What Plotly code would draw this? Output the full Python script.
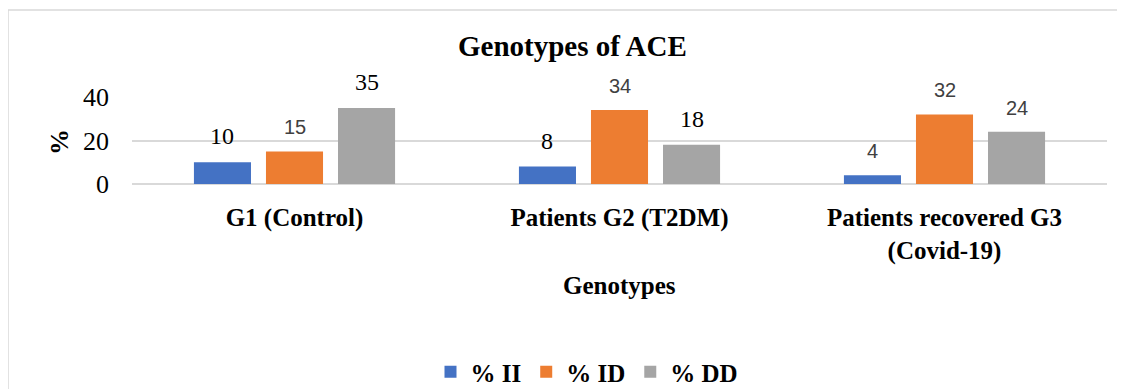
import plotly.graph_objects as go

categories = ["G1 (Control)", "Patients G2 (T2DM)", "Patients recovered G3<br>(Covid-19)"]
series_names = ["% II", "% ID", "% DD"]
values_II = [10, 8, 4]
values_ID = [15, 34, 32]
values_DD = [35, 18, 24]
colors = ["#4472C4", "#ED7D31", "#A5A5A5"]
# label font style per point: True = serif black, False = sans grey
serif_II = [True, True, False]
serif_ID = [False, False, False]
serif_DD = [True, True, False]

SERIF = "Liberation Serif, Times New Roman, Times, serif"
SANS = "Liberation Sans, Arial, sans-serif"

OFF = 8  # page body margin
W, H = 1125 - OFF, 389 - OFF
ML, MR, MT, MB = 124, 18, 89, 205
PW = W - ML - MR
PH = H - MT - MB

def px_x(px):
    return (px - OFF - ML) / PW

def px_y(py):
    return 1 - (py - OFF - MT) / PH

fig = go.Figure()
all_vals = [values_II, values_ID, values_DD]
all_serif = [serif_II, serif_ID, serif_DD]
for name, vals, col in zip(series_names, all_vals, colors):
    fig.add_trace(go.Bar(x=categories, y=vals, name=name, marker=dict(color=col, line=dict(width=0))))

bargap = 0.335
bargroupgap = 0.208
slot = PW / len(categories) * (1 - bargap) / 3
offsets = [-slot, 0, slot]

annotations = []
for i, (vals, serifs) in enumerate(zip(all_vals, all_serif)):
    for cat, v, s in zip(categories, vals, serifs):
        if s:
            font = dict(family=SERIF, size=24, color="#000000")
        else:
            font = dict(family=SANS, size=20, color="#404040")
        annotations.append(dict(x=cat, y=v, xref="x", yref="y", text=str(v), showarrow=False,
                                xanchor="center", yanchor="bottom", xshift=offsets[i], yshift=11,
                                font=font))

annotations.append(dict(x=px_x(572), y=px_y(46), xref="paper", yref="paper", text="<b>Genotypes of ACE</b>",
                        showarrow=False, xanchor="center", yanchor="middle",
                        font=dict(family=SERIF, size=29, color="#000000")))
annotations.append(dict(x=0.5, y=px_y(285), xref="paper", yref="paper", text="<b>Genotypes</b>",
                        showarrow=False, xanchor="center", yanchor="middle",
                        font=dict(family=SERIF, size=25, color="#000000")))
annotations.append(dict(x=px_x(59), y=px_y(142), xref="paper", yref="paper", text="<b>%</b>",
                        showarrow=False, xanchor="center", yanchor="middle", textangle=-90,
                        font=dict(family=SERIF, size=26, color="#000000")))

shapes = [
    dict(type="line", xref="paper", yref="paper", x0=px_x(8), x1=px_x(8), y0=px_y(10), y1=px_y(389),
         line=dict(color="#D9D9D9", width=1.5)),
    dict(type="line", xref="paper", yref="paper", x0=px_x(8), x1=px_x(1125), y0=px_y(10), y1=px_y(10),
         line=dict(color="#D9D9D9", width=1.5)),
]

fig.update_layout(
    width=W, height=H,
    margin=dict(l=ML, r=MR, t=MT, b=MB, pad=0),
    paper_bgcolor="white", plot_bgcolor="white",
    barmode="group", bargap=bargap, bargroupgap=bargroupgap,
    showlegend=True,
    legend=dict(orientation="h", x=px_x(587), xanchor="center",
                y=1 - (372 - OFF) / H, yref="container", yanchor="middle",
                font=dict(family=SERIF, size=25, color="#000000", weight="bold"),
                itemwidth=30, tracegroupgap=0),
    annotations=annotations,
    shapes=shapes,
)
fig.update_xaxes(showgrid=False, showline=False, zeroline=False, ticks="",
                 tickfont=dict(family=SERIF, size=25, color="#000000", weight="bold"),
                 ticklabelstandoff=16)
fig.update_yaxes(range=[0, 40], tickvals=[0, 20, 40], showgrid=True, gridcolor="#D9D9D9", gridwidth=1.5,
                 zeroline=True, zerolinecolor="#D9D9D9", zerolinewidth=1.5, showline=False, ticks="",
                 tickfont=dict(family=SERIF, size=26, color="#000000"),
                 ticklabelstandoff=22)

fig.write_html("out.html")
